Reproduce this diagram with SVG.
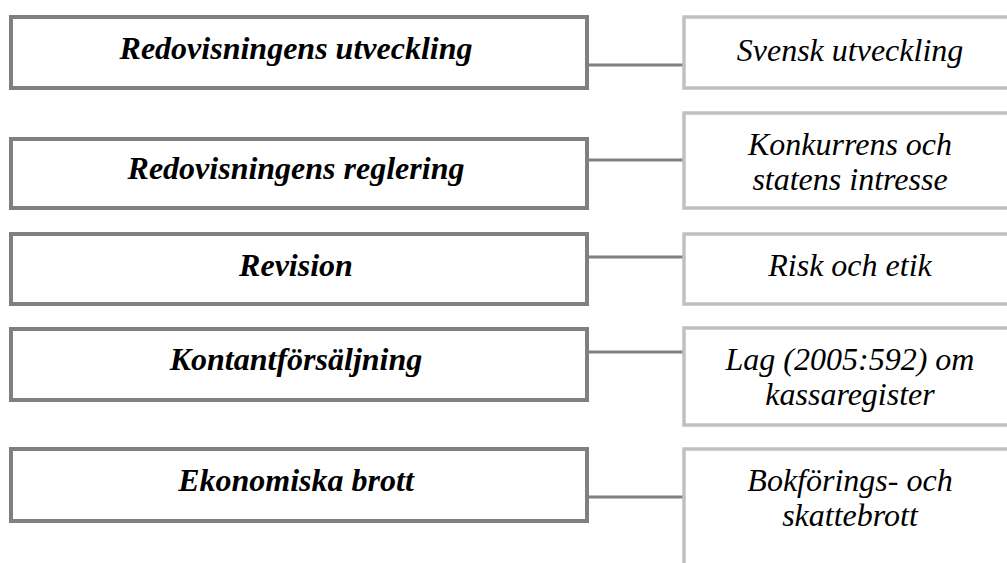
<svg xmlns="http://www.w3.org/2000/svg" width="1007" height="563" viewBox="0 0 1007 563">
<defs>
<style>
.lb{fill:#fff;stroke:#808080;stroke-width:4}
.rb{fill:#fff;stroke:#c0c0c0;stroke-width:3.5}
.c{stroke:#808080;stroke-width:3;fill:none}
.t{font-family:"Liberation Serif","Times New Roman",serif;font-style:italic;font-size:32px;text-anchor:middle;fill:#000}
.b{font-weight:bold}
</style>
</defs>
<rect width="1007" height="563" fill="#fff"/>
<g id="connectors">
<line class="c" x1="589" y1="65" x2="684" y2="65"/>
<line class="c" x1="589" y1="160" x2="684" y2="160"/>
<line class="c" x1="589" y1="257" x2="684" y2="257"/>
<line class="c" x1="589" y1="352" x2="684" y2="352"/>
<line class="c" x1="589" y1="497" x2="684" y2="497"/>
</g>
<g id="n1"><rect class="lb" x="11" y="17" width="576" height="71"/><text class="t b" x="296" y="59">Redovisningens utveckling</text></g>
<g id="n2"><rect class="lb" x="11" y="139" width="576" height="69"/><text class="t b" x="296" y="179">Redovisningens reglering</text></g>
<g id="n3"><rect class="lb" x="11" y="234" width="576" height="70"/><text class="t b" x="296" y="276">Revision</text></g>
<g id="n4"><rect class="lb" x="11" y="329" width="576" height="71"/><text class="t b" x="296" y="370">Kontantförsäljning</text></g>
<g id="n5"><rect class="lb" x="11" y="449" width="576" height="72"/><text class="t b" x="296" y="491">Ekonomiska brott</text></g>
<g id="r1"><rect class="rb" x="684" y="17" width="340" height="71"/><text class="t" x="850" y="61">Svensk utveckling</text></g>
<g id="r2"><rect class="rb" x="684" y="113" width="340" height="95"/><text class="t" x="850" y="155">Konkurrens och</text><text class="t" x="850" y="190">statens intresse</text></g>
<g id="r3"><rect class="rb" x="684" y="234" width="340" height="70"/><text class="t" x="850" y="276">Risk och etik</text></g>
<g id="r4"><rect class="rb" x="684" y="328" width="340" height="97"/><text class="t" x="850" y="370">Lag (2005:592) om</text><text class="t" x="850" y="405">kassaregister</text></g>
<g id="r5"><rect class="rb" x="684" y="449" width="340" height="140"/><text class="t" x="850" y="491">Bokförings- och</text><text class="t" x="850" y="526">skattebrott</text></g>
</svg>
